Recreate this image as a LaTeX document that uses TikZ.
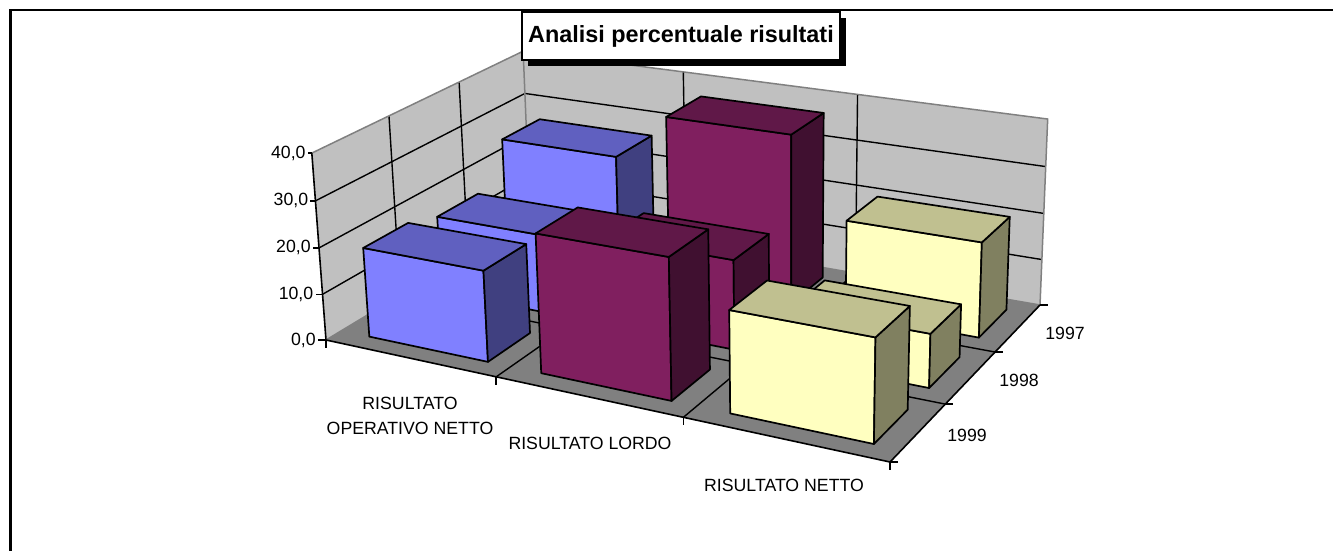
\documentclass[tikz,border=0pt]{standalone}
\usepackage{fontspec}
\setmainfont{Liberation Sans}
\usetikzlibrary{shadows}

\definecolor{wallgray}{HTML}{C0C0C0}
\definecolor{floorgray}{HTML}{808080}
\definecolor{bluefront}{HTML}{8080FF}
\definecolor{bluetop}{HTML}{6060C0}
\definecolor{blueside}{HTML}{404080}
\definecolor{plumfront}{HTML}{801F5F}
\definecolor{plumtop}{HTML}{601848}
\definecolor{plumside}{HTML}{401030}
\definecolor{creamfront}{HTML}{FFFFC0}
\definecolor{creamtop}{HTML}{C0C090}
\definecolor{creamside}{HTML}{808060}

\tikzset{
	wall/.style = {fill = wallgray},
	rim/.style = {draw = floorgray, line width = 1.5pt},
	gridline/.style = {draw = black, line width = 1.4pt},
	axisline/.style = {draw = black, line width = 1.6pt},
	boxface/.style = {draw = black, line width = 1.7pt, line join = round},
	ticklabel/.style = {font = \fontsize{17.7}{25}\selectfont, inner sep = 0pt}
}

% point on the chart: category share, depth share, value
\newcommand{\cpos}[3]{({px(#1,#2,#3)},{py(#1,#2,#3)})}

% one column: category, series (0 = front), value, front, top and side colours
\newcommand{\chartbox}[6]{%
	\pgfmathsetmacro{\ua}{#1/3+0.057}\pgfmathsetmacro{\ub}{#1/3+0.2903}%
	\pgfmathsetmacro{\va}{#2/3+0.0667}\pgfmathsetmacro{\vb}{#2/3+0.2667}%
	\filldraw[boxface, fill = #4] \cpos{\ua}{\va}{0} -- \cpos{\ub}{\va}{0} -- \cpos{\ub}{\va}{#3} -- \cpos{\ua}{\va}{#3} -- cycle;
	\filldraw[boxface, fill = #6] \cpos{\ub}{\va}{0} -- \cpos{\ub}{\vb}{0} -- \cpos{\ub}{\vb}{#3} -- \cpos{\ub}{\va}{#3} -- cycle;
	\filldraw[boxface, fill = #5] \cpos{\ua}{\va}{#3} -- \cpos{\ub}{\va}{#3} -- \cpos{\ub}{\vb}{#3} -- \cpos{\ua}{\vb}{#3} -- cycle;
}

\begin{document}
\begin{tikzpicture}[x = 1pt, y = -1pt,
	declare function = {
		pw(\uu,\vv,\zz) = 1 - 0.13496*\uu + 0.14558*\vv - 0.00075*\zz;
		px(\uu,\vv,\zz) = (443.89*\uu + 281.16*\vv + 326 - 0.5875*\zz)/pw(\uu,\vv,\zz);
		py(\uu,\vv,\zz) = (59.65*\uu - 91.41*\vv + 340 - 4.7875*\zz)/pw(\uu,\vv,\zz);
	}]
	 \clip (0, 0) rectangle (1333, 551);
	 \fill[white] (0, 0) rectangle (1333, 551);
	 \draw[line width = 2.5pt] (10.3, 10) rectangle (1345, 565);
	 
	 % walls and floor
	 \fill[wall] \cpos{0}{0}{0} -- \cpos{0}{1}{0} -- \cpos{0}{1}{40} -- \cpos{0}{0}{40} -- cycle;
	 \fill[wall] \cpos{0}{1}{0} -- \cpos{1}{1}{0} -- \cpos{1}{1}{40} -- \cpos{0}{1}{40} -- cycle;
	 \fill[floorgray] \cpos{0}{0}{0} -- \cpos{1}{0}{0} -- \cpos{1}{1}{0} -- \cpos{0}{1}{0} -- cycle;
	 
	 \foreach \val in {10, 20, 30}
	 \draw[gridline] \cpos{0}{0}{\val} -- \cpos{0}{1}{\val} -- \cpos{1}{1}{\val};
	 \foreach \f in {0.3333, 0.6667} {
	 	\draw[gridline] \cpos{0}{\f}{0} -- \cpos{0}{\f}{40};
	 	\draw[gridline] \cpos{\f}{1}{0} -- \cpos{\f}{1}{40};
	 	\draw[gridline] \cpos{0}{\f}{0} -- \cpos{1}{\f}{0};
	 	\draw[gridline] \cpos{\f}{0}{0} -- \cpos{\f}{1}{0};
	 }
	 
	 \draw[rim] \cpos{0}{0}{0} -- \cpos{0}{1}{0} -- \cpos{1}{1}{0};
	 \draw[rim] \cpos{0}{0}{40} -- \cpos{0}{1}{40} -- \cpos{1}{1}{40} -- \cpos{1}{1}{0};
	 \draw[rim] \cpos{0}{1}{0} -- \cpos{0}{1}{40};
	 
	 \draw[axisline] \cpos{0}{0}{40} -- \cpos{0}{0}{0} -- \cpos{1}{0}{0} -- \cpos{1}{1}{0};
	 
	 % columns, back row first
	 \foreach \ser/\ra/\rb/\rc in {2/26.3/36.8/20.2, 1/17.1/19.0/11.1, 0/19.3/29.0/20.7} {
	 	\chartbox{0}{\ser}{\ra}{bluefront}{bluetop}{blueside}
	 	\chartbox{1}{\ser}{\rb}{plumfront}{plumtop}{plumside}
	 	\chartbox{2}{\ser}{\rc}{creamfront}{creamtop}{creamside}
	 }
	 
	 % ticks and labels
	 \foreach \val in {0, 10, 20, 30, 40}
	 \draw[axisline] \cpos{0}{0}{\val} -- ++(-8 + \val/10, 0) node[ticklabel, anchor = east, xshift = -1.5pt] (v\val) {\val,0};
	 \foreach \f in {0, 0.3333, 0.6667, 1} {
	 	\draw[axisline] \cpos{\f}{0}{0} -- ++(0, 8);
	 	\draw[axisline] \cpos{1}{\f}{0} -- ++(8, 0);
	 }
	 
	 \node[ticklabel, align = center] (catop) at (410, 416) {RISULTATO\\OPERATIVO NETTO};
	 \node[ticklabel] (catlordo) at (590, 443) {RISULTATO LORDO};
	 \node[ticklabel] (catnetto) at (784, 485) {RISULTATO NETTO};
	 
	 \node[ticklabel] (y1997) at (1065, 333) {1997};
	 \node[ticklabel] (y1998) at (1019, 380) {1998};
	 \node[ticklabel] (y1999) at (967, 435) {1999};
	 
	 \node[draw, line width = 2pt, fill = white, minimum width = 318pt, minimum height = 48pt,
	 	font = \bfseries\fontsize{23.4}{26}\selectfont,
	 	drop shadow = {shadow xshift = 6pt, shadow yshift = -6pt, opacity = 1, fill = black}]
	 	(title) at (681, 36) {Analisi percentuale risultati};
\end{tikzpicture}
\end{document}
